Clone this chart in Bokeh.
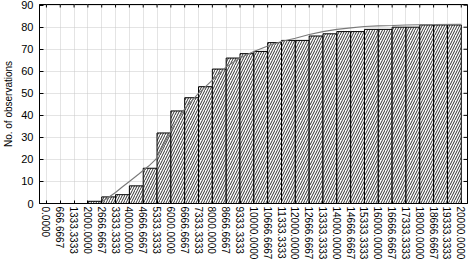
import math
from bokeh.plotting import figure
from bokeh.models import FixedTicker, Range1d
from bokeh.embed import file_html
from bokeh.resources import INLINE

# ---- data ----
tick_labels = ["0.0000", "666.6667", "1333.3333", "2000.0000", "2666.6667",
               "3333.3333", "4000.0000", "4666.6667", "5333.3333", "6000.0000",
               "6666.6667", "7333.3333", "8000.0000", "8666.6667", "9333.3333",
               "10000.0000", "10666.6667", "11333.3333", "12000.0000", "12666.6667",
               "13333.3333", "14000.0000", "14666.6667", "15333.3333", "16000.0000",
               "16666.6667", "17333.3333", "18000.0000", "18666.6667", "19333.3333",
               "20000.0000"]
bin_edges = [float(s) for s in tick_labels]
cum_counts = [0, 0, 0, 1, 3, 4, 8, 16, 32, 42,
              48, 53, 61, 66, 68, 69, 73, 74, 74, 76,
              77, 78, 78, 79, 79, 80, 80, 81, 81, 81]
# fitted cumulative curve
curve_x = [2550, 2950, 3330, 3670, 4000, 4470, 4930, 5270, 5670, 6000,
           6330, 6670, 7330, 8000, 8670, 9330, 10000, 10670, 11330, 12000,
           12670, 13330, 14000, 14670, 15330, 16000, 16670, 17330, 18670, 20000]
curve_y = [0, 2.5, 5, 7.6, 10, 13.5, 17, 20, 27, 33,
           38, 43, 50, 56, 62, 66, 69, 71.5, 73.5, 75,
           76.7, 78, 79, 79.7, 80.3, 80.6, 80.8, 81, 81.2, 81.3]
y_ticks = [0, 10, 20, 30, 40, 50, 60, 70, 80, 90]

FONT = "Liberation Sans"
X0, X1 = -333, 20300
Y0, Y1 = 0, 90.3

p = figure(width=468, height=262, output_backend="svg", toolbar_location=None,
           x_range=Range1d(X0, X1), y_range=Range1d(Y0, Y1),
           min_border_left=36, min_border_right=1, min_border_top=4,
           min_border_bottom=0)
p.background_fill_color = "white"
p.border_fill_color = "white"
p.outline_line_color = "black"
p.outline_line_width = 1

# gridlines
p.xgrid.ticker = FixedTicker(ticks=bin_edges)
p.ygrid.ticker = FixedTicker(ticks=y_ticks)
for g in (p.xgrid, p.ygrid):
    g.grid_line_color = "#c8c8c8"
    g.grid_line_dash = "1 1"
    g.grid_line_width = 1

# bars
p.quad(left=bin_edges[:-1], right=bin_edges[1:], bottom=0, top=cum_counts,
       fill_color="white", line_color="black", line_width=1,
       hatch_pattern="/", hatch_color="#1a1a1a", hatch_scale=5, hatch_weight=0.9)

# curve
p.line(curve_x, curve_y, line_color="#7a7a7a", line_width=1.1)

# inner tick marks on the top and right frame edges
p.scatter(x=bin_edges, y=[Y1] * len(bin_edges), marker="dash", angle=math.pi / 2,
          size=6, line_color="black", line_width=1)
p.scatter(x=[X1] * len(y_ticks), y=y_ticks, marker="dash",
          size=8, line_color="black", line_width=1)

# axes
xa = p.xaxis[0]
xa.ticker = FixedTicker(ticks=bin_edges)
xa.major_label_overrides = {e: s for e, s in zip(bin_edges, tick_labels)}
xa.major_label_orientation = "vertical"
xa.major_label_text_font = FONT
xa.major_label_text_font_size = "10px"
xa.major_label_text_color = "black"
xa.major_label_standoff = 3
xa.major_tick_in = 3
xa.major_tick_out = 0
xa.minor_tick_line_color = None
xa.axis_line_color = "black"

ya = p.yaxis[0]
ya.ticker = FixedTicker(ticks=y_ticks)
ya.major_label_text_font = FONT
ya.major_label_text_font_size = "11px"
ya.major_label_text_color = "black"
ya.major_label_standoff = 6
ya.major_tick_in = 4
ya.major_tick_out = 0
ya.minor_tick_line_color = None
ya.axis_line_color = "black"
ya.axis_label = "No. of observations"
ya.axis_label_text_font = FONT
ya.axis_label_text_font_size = "10px"
ya.axis_label_text_font_style = "normal"
ya.axis_label_text_color = "black"
ya.axis_label_standoff = 4

open("out.html", "w").write(file_html(p, INLINE))
